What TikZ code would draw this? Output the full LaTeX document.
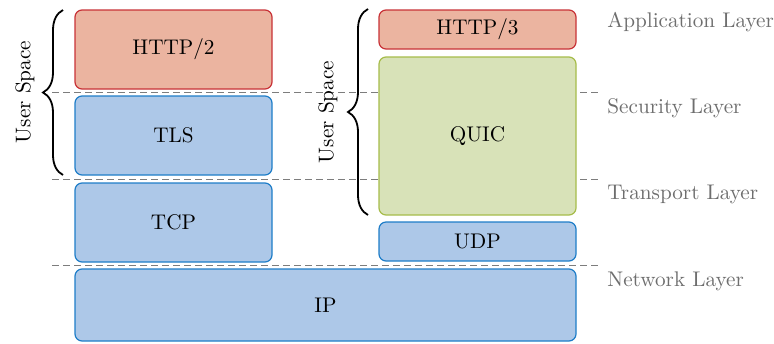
\documentclass[tikz,border=0pt]{standalone}
\usetikzlibrary{decorations.pathreplacing}
\definecolor{redfill}{RGB}{235,180,160}
\definecolor{redline}{RGB}{200,50,55}
\definecolor{bluefill}{RGB}{173,200,232}
\definecolor{blueline}{RGB}{30,125,200}
\definecolor{greenfill}{RGB}{216,226,184}
\definecolor{greenline}{RGB}{166,188,74}
\definecolor{layergray}{RGB}{110,110,110}
\begin{document}
\begin{tikzpicture}[x=0.5pt,y=-0.5pt,
  font=\fontsize{10.6}{13}\selectfont,
  layerbox/.style={rectangle, rounded corners=3.5pt, line width=0.6pt, inner sep=0pt, minimum width=98.5pt},
  redbox/.style={layerbox, draw=redline, fill=redfill},
  bluebox/.style={layerbox, draw=blueline, fill=bluefill},
  greenbox/.style={layerbox, draw=greenline, fill=greenfill},
  sepline/.style={draw=layergray!90, line width=0.5pt, dash pattern=on 3.5pt off 2pt},
  layerlabel/.style={anchor=west, text=layergray, inner sep=0pt},
  bracestyle/.style={decorate, decoration={brace, amplitude=10pt}, line width=0.9pt},
  userlabel/.style={rotate=90, inner sep=0pt}]
\useasboundingbox (0,0) rectangle (774,343);
% separators
\coordinate (s1l) at (52,92);   \coordinate (s1r) at (598,92);
\coordinate (s2l) at (52,179);  \coordinate (s2r) at (598,179);
\coordinate (s3l) at (52,265.5);\coordinate (s3r) at (598,265.5);
\draw[sepline] (s1l) -- (s1r);
\draw[sepline] (s2l) -- (s2r);
\draw[sepline] (s3l) -- (s3r);
% left stack
\node[redbox, minimum height=39.5pt] (http2) at (173.5,49.5) {HTTP/2};
\node[bluebox, minimum height=39.5pt] (tls) at (173.5,135.5) {TLS};
\node[bluebox, minimum height=39.5pt] (tcp) at (173.5,222.5) {TCP};
% right stack
\node[redbox, minimum height=19.5pt] (http3) at (477.5,29.5) {HTTP/3};
\node[greenbox, minimum height=79pt] (quic) at (477.5,136) {QUIC};
\node[bluebox, minimum height=19.5pt] (udp) at (477.5,241.5) {UDP};
% IP
\node[bluebox, minimum width=250.5pt, minimum height=36pt] (ip) at (325.5,305) {IP};
% braces
\coordinate (b1a) at (63,175); \coordinate (b1b) at (63,10);
\draw[bracestyle] (b1a) -- (b1b);
\node[userlabel] (us1) at (25,92) {User Space};
\coordinate (b2a) at (368,215); \coordinate (b2b) at (368,9);
\draw[bracestyle] (b2a) -- (b2b);
\node[userlabel] (us2) at (328,112) {User Space};
% layer labels
\node[layerlabel] (app) at (607,22.5) {Application Layer};
\node[layerlabel] (sec) at (607,108) {Security Layer};
\node[layerlabel] (tra) at (607,194) {Transport Layer};
\node[layerlabel] (net) at (607,281.5) {Network Layer};
\end{tikzpicture}
\end{document}
